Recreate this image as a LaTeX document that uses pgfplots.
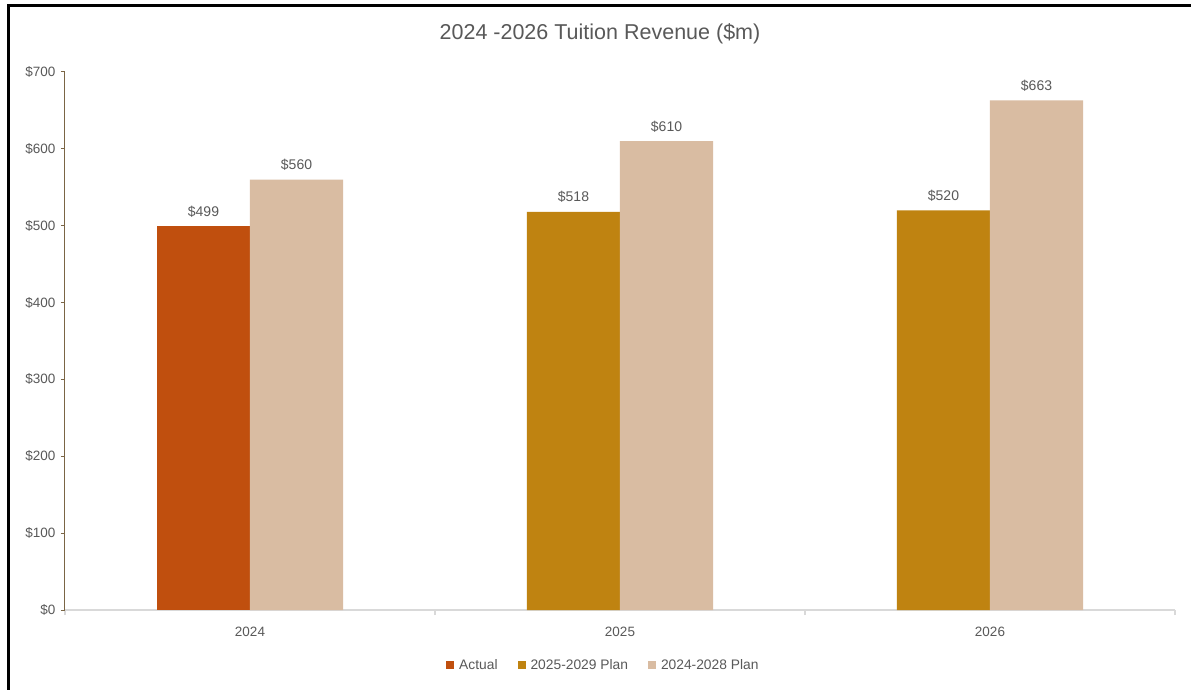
\documentclass[border=0pt]{standalone}
\usepackage{pgfplots}
\pgfplotsset{compat=1.18}
\usepackage{fontspec}
\setmainfont{Liberation Sans}
\definecolor{actual}{HTML}{C04F0E}
\definecolor{planA}{HTML}{BF8311}
\definecolor{planB}{HTML}{D9BCA2}
\definecolor{txt}{HTML}{595959}
\definecolor{yax}{HTML}{7A6545}
\definecolor{xax}{HTML}{D9D9D9}
\begin{document}
\begin{tikzpicture}
\path[use as bounding box] (0pt,0pt) rectangle (1191pt,689pt);
\fill[white] (0pt,0pt) rectangle (1191pt,689pt);
\draw[line width=2.5pt,black] (8.5pt,-2pt) -- (8.5pt,683.5pt) -- (1193pt,683.5pt);
\node[text=txt,font=\fontsize{21.5}{25}\selectfont] at (600pt,655pt) {2024 -2026 Tuition Revenue (\$m)};
\begin{axis}[at={(65pt,79pt)}, anchor=south west, width=1110pt, height=538pt, scale only axis,
  /pgf/number format/assume math mode=true,
  xmin=-0.5,xmax=2.5,ymin=0,ymax=700,
  axis x line*=bottom, axis y line*=left,
  x axis line style={draw=xax,line width=1.5pt,-},
  y axis line style={draw=yax,line width=1pt,-},
  xtick={0,1,2}, xticklabels={2024,2025,2026},
  minor xtick={-0.5,0.5,1.5,2.5},
  ytick={0,100,...,700},
  yticklabel={\$\pgfmathprintnumber{\tick}},
  tick align=outside,
  major x tick style={draw=none},
  minor x tick style={draw=xax,line width=1.5pt},
  minor tick length=5pt,
  major y tick style={draw=yax,line width=1pt},
  major tick length=4pt,
  ticklabel style={text=txt,font=\fontsize{13.5}{16}\selectfont},
  yticklabel style={xshift=-2pt},
  xticklabel style={yshift=-10pt},
  nodes near coords={\$\pgfmathprintnumber{\pgfplotspointmeta}},
  every node near coord/.append style={text=txt,font=\fontsize{14}{16}\selectfont,yshift=5.5pt},
  legend columns=3,
  legend style={draw=none,fill=none,at={(axis description cs:0.485,-0.102)},anchor=center,
    font=\fontsize{13.8}{16}\selectfont,text=txt,
    /tikz/every odd column/.append style={column sep=3pt},
    /tikz/every even column/.append style={column sep=18pt}},
  legend image code/.code={\fill[#1] (0pt,-4pt) rectangle (8pt,4pt);},
]
\addplot[ybar,bar width=0.2514,bar shift=0pt,fill=actual,draw=none] coordinates {(-0.1257,499)};
\addplot[ybar,bar width=0.2514,bar shift=0pt,fill=planA,draw=none] coordinates {(0.8743,518) (1.8743,520)};
\addplot[ybar,bar width=0.2514,bar shift=0pt,fill=planB,draw=none] coordinates {(0.1257,560) (1.1257,610) (2.1257,663)};
\legend{Actual,2025-2029 Plan,2024-2028 Plan}
\end{axis}
\end{tikzpicture}
\end{document}
